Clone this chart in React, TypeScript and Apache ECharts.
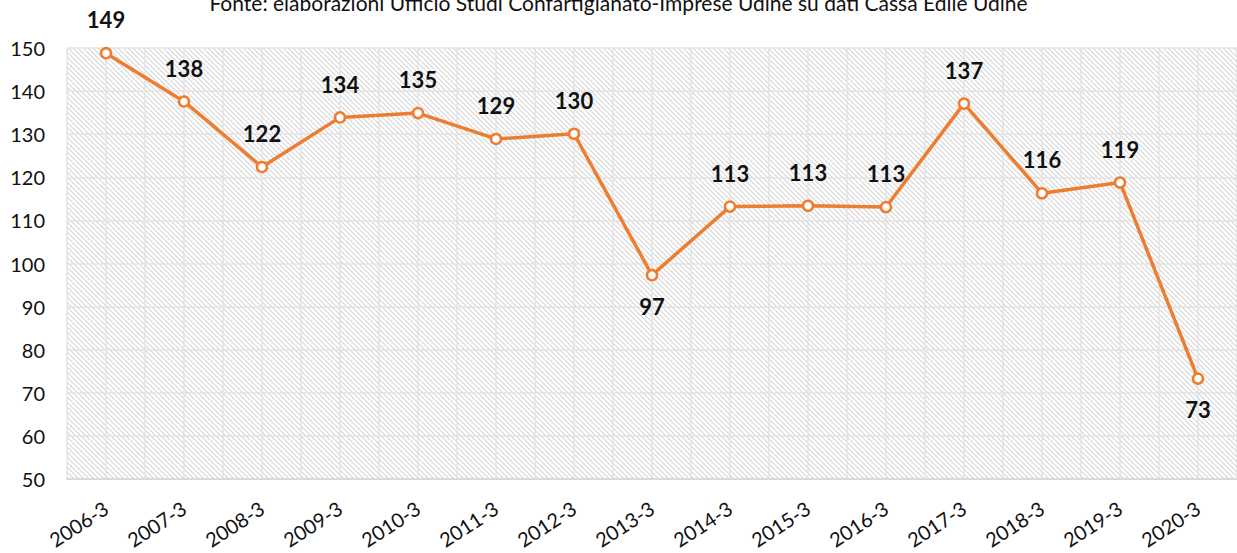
import React, { useEffect, useRef } from "react";
import * as echarts from "echarts";

const categories = ["2006-3","2007-3","2008-3","2009-3","2010-3","2011-3","2012-3","2013-3","2014-3","2015-3","2016-3","2017-3","2018-3","2019-3","2020-3"];
const values = [148.8, 137.6, 122.4, 133.9, 134.9, 128.9, 130.1, 97.3, 113.2, 113.4, 113.1, 137.1, 116.3, 118.8, 73.3];
const labelBelow = ["2013-3", "2020-3"];
const titleText = "Fonte: elaborazioni Ufficio Studi Confartigianato-Imprese Udine su dati Cassa Edile Udine";

function makeHatch(): HTMLCanvasElement {
  const s = 5;
  const c = document.createElement("canvas");
  c.width = s; c.height = s;
  const ctx = c.getContext("2d")!;
  ctx.fillStyle = "#ffffff";
  ctx.fillRect(0, 0, s, s);
  ctx.strokeStyle = "#d4d4d4";
  ctx.lineWidth = 1.1;
  for (const x of [-s, 0, s]) {
    ctx.beginPath();
    ctx.moveTo(x, 0);
    ctx.lineTo(x + s, s);
    ctx.stroke();
  }
  return c;
}

export default function App() {
  const ref = useRef<HTMLDivElement>(null);
  useEffect(() => {
    const chart = echarts.init(ref.current!, undefined, { renderer: "svg" });
    const font = "Lato, 'Liberation Sans', sans-serif";
    chart.setOption({
      animation: false,
      backgroundColor: "#ffffff",
      title: {
        text: titleText,
        left: "center",
        top: -13,
        textStyle: { fontFamily: font, fontSize: 21, fontWeight: "normal", color: "#111" },
      },
      grid: {
        left: 67, right: -9, top: 48, bottom: 74,
        show: true,
        borderWidth: 0,
        backgroundColor: { image: makeHatch(), repeat: "repeat" } as any,
      },
      xAxis: [
        {
          type: "category",
          data: categories,
          boundaryGap: true,
          axisLine: { lineStyle: { color: "#d9d9d9", width: 2 } },
          axisTick: { show: false },
          splitLine: { show: false },
          axisLabel: { rotate: 33, fontFamily: font, fontSize: 20, color: "#111", margin: 27 },
        },
        {
          type: "value",
          min: 0, max: 30, interval: 1,
          position: "top",
          axisLine: { show: false },
          axisTick: { show: false },
          axisLabel: { show: false },
          splitLine: { show: true, lineStyle: { color: "#e3e3e3", width: 1.5 } },
        },
      ],
      yAxis: {
        type: "value",
        min: 50, max: 150, interval: 10,
        axisLine: { show: false },
        axisTick: { show: false },
        axisLabel: { fontFamily: font, fontSize: 20, color: "#111", margin: 22 },
        splitLine: { lineStyle: { color: "#e3e3e3", width: 1.5 } },
      },
      series: [
        {
          type: "line",
          xAxisIndex: 0,
          data: values.map((v, i) => ({
            value: v,
            label: labelBelow.includes(categories[i])
              ? { position: "bottom", distance: 14 }
              : { position: "top", distance: 16 },
          })),
          symbol: "circle",
          symbolSize: 10,
          lineStyle: { color: "#ED7D31", width: 3.5 },
          itemStyle: { color: "#ffffff", borderColor: "#ED7D31", borderWidth: 2.5 },
          label: {
            show: true,
            fontFamily: font,
            fontSize: 22,
            fontWeight: "bold",
            color: "#111",
            formatter: (p: any) => String(Math.round(p.value)),
          },
          z: 5,
        },
      ],
    });
    return () => chart.dispose();
  }, []);
  return <div ref={ref} style={{ position: "fixed", left: 0, top: 0, width: 1237, height: 553 }} />;
}
